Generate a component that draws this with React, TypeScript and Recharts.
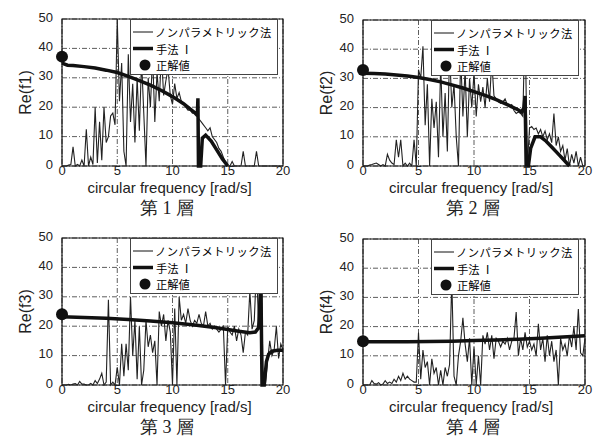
import React from "react";
import { ComposedChart, Line, Scatter, XAxis, YAxis, CartesianGrid, ReferenceArea } from "recharts";

// frequency grid of the non-parametric estimate [rad/s]
const noiseFreq = [
  0, 0.2, 0.4, 0.6, 0.8, 1, 1.2, 1.4, 1.6, 1.8,
  2, 2.2, 2.4, 2.6, 2.8, 3, 3.2, 3.4, 3.6, 3.8,
  4, 4.2, 4.4, 4.6, 4.8, 5, 5.2, 5.4, 5.6, 5.8,
  6, 6.2, 6.4, 6.6, 6.8, 7, 7.2, 7.4, 7.6, 7.8,
  8, 8.2, 8.4, 8.6, 8.8, 9, 9.2, 9.4, 9.6, 9.8,
  10, 10.2, 10.4, 10.6, 10.8, 11, 11.2, 11.4, 11.6, 11.8,
  12, 12.2, 12.4, 12.6, 12.8, 13, 13.2, 13.4, 13.6, 13.8,
  14, 14.2, 14.4, 14.6, 14.8, 15, 15.2, 15.4, 15.6, 15.8,
  16, 16.2, 16.4, 16.6, 16.8, 17, 17.2, 17.4, 17.6, 17.8,
  18, 18.2, 18.4, 18.6, 18.8, 19, 19.2, 19.4, 19.6, 19.8,
  20,
];

// ノンパラメトリック法
const noise1 = [
  0, 0, 0, 0.3, 0.5, 6.5, 0, 0.5, 0, 2,
  0, 12.5, 0, 3, 0.5, 20, 1, 15, 2, 20,
  8, 10, 17, 18, 14, 50, 22, 35, 5, 0,
  38, 15, 28, 8, 30, 12, 36, 18, 0, 30,
  20, 38, 15, 32, 22, 38, 24, 29, 33, 24,
  21, 28, 23, 25, 22, 21, 20, 19, 19, 18,
  18, 17.5, 16, 15, 14, 13, 12, 13, 10, 9,
  8, 6, 5, 3, 1, 0, 0, 1.5, 0, 0,
  0, 0, 5, 0, 0, 0, 0, 0, 5, 0,
  0, 0, 0, 0, 0, 0, 0, 0, 0, 0,
  0,
];
const noise2 = [
  0, 0, 0, 0.3, 0.5, 0.8, 1, 0.5, 0, 0.5,
  0, 4, 2, 1, 0.5, 9, 3, 9, 0, 1,
  0, 1, 0, 9, 0, 33, 30, 41, 14, 28,
  0, 23, 13, 22, 3, 35, 10, 25, 5, 40,
  20, 28, 10, 0, 38, 17, 33, 10, 30, 20,
  32, 17, 28, 22, 27, 20, 30, 22, 36, 24,
  23, 22, 21.5, 22, 23, 21, 20.5, 21, 19, 18,
  18.5, 18, 17, 50, 0, 13, 13.5, 12.5, 13, 11,
  12.5, 10, 12, 9, 11, 8, 18, 7, 10, 5,
  7, 2, 6, 0, 4, 1, 5, 0, 3, 0,
  0,
];
const noise3 = [
  0, 0, 0, 0.2, 0, 0.3, 0.5, 0, 1.2, 0.3,
  0.3, 0, 0, 0.5, 0, 1.5, 0.5, 2, 4, 0,
  1, 29, 0, 1, 0, 6, 0, 14, 3, 14,
  5, 30, 10, 22, 2, 20, 0, 5, 22, 13,
  17, 11, 15, 0, 25, 20, 24, 15, 22, 18,
  0, 26, 0, 30, 22, 24, 21, 26, 22, 20,
  22, 21, 24, 21, 20, 25, 20, 21, 19, 20,
  19, 18, 19, 20, 0, 20, 18, 17, 20, 15,
  19, 17, 11, 18, 17, 32, 19, 22, 40, 20,
  50, 0, 0, 8, 15, 10, 12, 20, 9, 14,
  12,
];
const noise4 = [
  0, 0, 0, 0, 1.5, 0.5, 0.3, 0.8, 0, 0.3,
  1.5, 0.5, 1, 0.5, 2, 1, 3, 1.5, 4, 2,
  3, 2, 1.5, 1, 1, 18, 2, 12, 6, 8,
  0, 9, 4, 6, 0, 5, 0, 6, 3, 7,
  36, 3, 0, 10, 15, 23, 14, 8, 16, 0,
  13, 0, 10, 0, 17, 14, 18, 12, 17, 9,
  16, 15, 13, 15, 14, 16, 12, 15, 16, 25,
  10, 16, 12, 18, 13, 15, 12, 14, 10, 21,
  12, 16, 8, 17, 10, 15, 8, 12, 0, 16,
  12, 14, 10, 17, 13, 20, 12, 26, 11, 10,
  16,
];

// 手法 I
const method1Freq = [0, 0.5, 1, 2, 3, 4, 5, 6, 7, 8, 9, 10, 11, 12, 12.25, 12.3, 12.35, 12.55, 12.7, 13, 13.5, 14, 14.5, 15];
const method1Vals = [35, 34.3, 34.2, 33.8, 33.3, 32.6, 31.8, 30.5, 29, 27.5, 25.7, 23.6, 21.2, 18.2, 17.2, 23, 0, 0, 9.5, 10.5, 8.5, 5.5, 2.5, 0];
const method2Freq = [0, 1, 2, 3, 4, 5, 6, 7, 8, 9, 10, 11, 12, 13, 14, 14.3, 14.5, 14.6, 14.7, 14.9, 15.1, 15.5, 16, 16.5, 17, 17.5, 18, 18.6];
const method2Vals = [31.8, 31.7, 31.5, 31.2, 30.8, 30.3, 29.6, 28.8, 27.8, 26.7, 25.5, 24.2, 22.7, 21, 19.2, 18.5, 20, 24, 0, 0, 6, 10, 10, 8.5, 6.5, 4.5, 2.5, 0];
const method3Freq = [0, 2, 4, 6, 8, 10, 12, 14, 16, 17, 17.5, 17.8, 18, 18.1, 18.3, 18.5, 18.7, 19, 19.5, 20];
const method3Vals = [23.2, 23, 22.7, 22.3, 21.8, 21.2, 20.4, 19.5, 18.3, 17.8, 18, 19.5, 35, 0, 0, 8, 10.5, 11.5, 11.8, 11.8];
const method4Freq = [0, 2, 4, 6, 8, 10, 12, 14, 16, 18, 20];
const method4Vals = [14.8, 14.8, 14.8, 14.9, 15, 15.2, 15.4, 15.7, 16, 16.4, 16.9];

// 正解値 (at 0 rad/s)
const exactVals = [37.2, 32.9, 24.1, 15.0];

const xTicks = [0, 5, 10, 15, 20];
const yTicks = [0, 10, 20, 30, 40, 50];
const yLabels = ["Re(f1)", "Re(f2)", "Re(f3)", "Re(f4)"];
const titles = ["第 1 層", "第 2 層", "第 3 層", "第 4 層"];

const rows = (f: number[], v: number[]) => f.map((x, i) => ({ f: x, v: v[i] }));

const noiseSets = [noise1, noise2, noise3, noise4];
const methodSets = [
  rows(method1Freq, method1Vals),
  rows(method2Freq, method2Vals),
  rows(method3Freq, method3Vals),
  rows(method4Freq, method4Vals),
];

const layout = [
  { left: 0, top: 0, mt: 19, mr: 23 },
  { left: 301, top: 0, mt: 20, mr: 22 },
  { left: 0, top: 219, mt: 19, mr: 23 },
  { left: 301, top: 219, mt: 20, mr: 22 },
];

const sans = '"Liberation Sans", Arial, sans-serif';
const jp = '"Noto Sans CJK JP", sans-serif';

const YLabel = ({ viewBox, text }: any) => {
  const cx = 25;
  const cy = viewBox.y + viewBox.height / 2;
  return (
    <text x={cx} y={cy} transform={`rotate(-90, ${cx}, ${cy})`} textAnchor="middle" dominantBaseline="central"
      fontSize={16} fontFamily={sans} fill="#222">
      {text}
    </text>
  );
};

const XLabel = ({ viewBox }: any) => (
  <text x={viewBox.x + viewBox.width / 2 - 3} y={viewBox.y + 21} textAnchor="middle" dominantBaseline="central"
    fontSize={15} fontFamily={sans} fill="#222">
    circular frequency [rad/s]
  </text>
);

const Dot = (props: any) => <circle cx={props.cx} cy={props.cy} r={6} fill="#111" />;

// legend drawn in SVG so each row sits at a fixed baseline
const LegendBox = ({ top }: { top: number }) => (
  <svg width={148} height={56} style={{ position: "absolute", left: 130, top }}>
    <rect x={0.5} y={0.5} width={147} height={55} fill="#fff" stroke="#444" strokeWidth={1} />
    <line x1={3} x2={23} y1={13} y2={13} stroke="#111" strokeWidth={1} />
    <text x={25} y={13} dominantBaseline="central" fontSize={11.3} fontFamily={jp} fill="#000" letterSpacing={0.4}>
      ノンパラメトリック法
    </text>
    <line x1={3} x2={23} y1={29.5} y2={29.5} stroke="#111" strokeWidth={3.5} />
    <text x={26} y={29.5} dominantBaseline="central" fontSize={11.3} fontFamily={jp} fill="#000">
      手法 Ⅰ
    </text>
    <circle cx={15} cy={46} r={5.5} fill="#111" />
    <text x={26} y={46} dominantBaseline="central" fontSize={11.3} fontFamily={jp} fill="#000">
      正解値
    </text>
  </svg>
);

const Panel = ({ idx }: { idx: number }) => {
  const pos = layout[idx];
  const noise = rows(noiseFreq, noiseSets[idx]);
  const exact = [{ f: 0, v: exactVals[idx] }];
  return (
    <div style={{ position: "absolute", left: pos.left, top: pos.top, width: 306, height: 220 }}>
      <ComposedChart width={306} height={196} margin={{ top: pos.mt, right: pos.mr, left: 0, bottom: 0 }}>
        <CartesianGrid stroke="#333" strokeDasharray="5 2 1 2" strokeWidth={0.8} />
        <XAxis dataKey="f" type="number" domain={[0, 20]} ticks={xTicks} height={30} tickLine={false}
          axisLine={false} tickSize={0} tickMargin={0} interval={0}
          tick={{ fontSize: 13, fontFamily: sans, fill: "#222" }} label={<XLabel />} />
        <YAxis dataKey="v" type="number" domain={[0, 50]} ticks={yTicks} width={62} tickLine={false}
          axisLine={false} tickSize={0} tickMargin={9} interval={0}
          tick={{ fontSize: 13, fontFamily: sans, fill: "#222", dy: -2 }} label={<YLabel text={yLabels[idx]} />} />
        <ReferenceArea x1={0} x2={20} y1={0} y2={50} fill="none" stroke="#111" strokeWidth={1.2} fillOpacity={0} />
        <Line data={noise} dataKey="v" type="linear" stroke="#222" strokeWidth={1.1} dot={false}
          isAnimationActive={false} />
        <Line data={methodSets[idx]} dataKey="v" type="linear" stroke="#111" strokeWidth={3.5} dot={false}
          isAnimationActive={false} />
        <Scatter data={exact} dataKey="v" shape={<Dot />} isAnimationActive={false} />
      </ComposedChart>
      <LegendBox top={pos.mt} />
      <div style={{
        position: "absolute", left: 0, top: 196, width: 340,
        fontFamily: '"Liberation Serif", "DejaVu Serif", serif', fontSize: 18, color: "#222",
      }}>
        <span style={{ position: "absolute", left: idx % 2 === 0 ? 167 : 172, transform: "translateX(-50%)", whiteSpace: "nowrap" }}>
          {titles[idx]}
        </span>
      </div>
    </div>
  );
};

export default function App() {
  return (
    <div style={{ position: "absolute", left: 0, top: 0, width: 612, height: 439, background: "#fff", overflow: "hidden" }}>
      {[0, 1, 2, 3].map((i) => <Panel key={i} idx={i} />)}
    </div>
  );
}
